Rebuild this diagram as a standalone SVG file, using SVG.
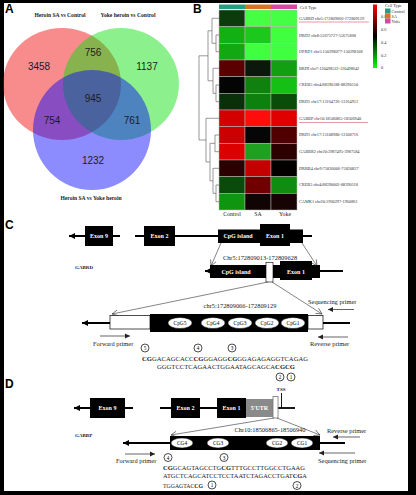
<svg xmlns="http://www.w3.org/2000/svg" width="416" height="495" viewBox="0 0 416 495">
<defs>
<style>
.pl{font-family:"Liberation Sans",Arial,sans-serif;font-weight:bold;font-size:12px;fill:#000}
.vn{font-family:"Liberation Sans",Arial,sans-serif;font-size:10px;fill:#1a1a2a;text-anchor:middle}
.vl{font-family:"Liberation Serif","Times New Roman",serif;font-weight:bold;font-size:5.6px;fill:#222;text-anchor:middle}
.hl{font-family:"Liberation Serif","Times New Roman",serif;font-size:4.3px;fill:#333}
.cl{font-family:"Liberation Serif","Times New Roman",serif;font-size:5.8px;fill:#222;text-anchor:middle}
.tx{font-family:"Liberation Serif","Times New Roman",serif;font-size:6.4px;fill:#222}
.txm{font-family:"Liberation Serif","Times New Roman",serif;font-size:6.4px;fill:#222;text-anchor:middle}
.wt{font-family:"Liberation Serif","Times New Roman",serif;font-weight:bold;font-size:6px;fill:#fff;text-anchor:middle}
.ov{font-family:"Liberation Serif","Times New Roman",serif;font-size:5.4px;fill:#000;text-anchor:middle}
.seq{font-family:"Liberation Serif","Times New Roman",serif;font-size:6.2px;fill:#222}
.gn{font-family:"Liberation Serif","Times New Roman",serif;font-weight:bold;font-size:5px;fill:#222}
.cn{font-family:"Liberation Serif","Times New Roman",serif;font-size:5.2px;fill:#000;text-anchor:middle}
.ln{stroke:#000;stroke-width:1.8;fill:none}
.thin{stroke:#333;stroke-width:0.6;fill:none}
.pa{stroke:#222;stroke-width:0.7;fill:none}
.dg{stroke:#555;stroke-width:0.6;fill:none}
.cell{stroke:#b8b8b8;stroke-width:0.5}
.circ{fill:#fff;stroke:#000;stroke-width:0.7}
.oval{fill:#fff;stroke:#000;stroke-width:0.5}
</style>
<marker id="ah" markerWidth="6" markerHeight="6" refX="5" refY="3" orient="auto" markerUnits="userSpaceOnUse"><path d="M0,0.6 L5,3 L0,5.4 Z" fill="#222"/></marker>
<marker id="ao" markerWidth="8" markerHeight="8" refX="6" refY="4" orient="auto" markerUnits="userSpaceOnUse"><path d="M0,1 L6,4 L0,7" fill="none" stroke="#333" stroke-width="0.6"/></marker>
<marker id="ab" markerWidth="8" markerHeight="8" refX="6" refY="4" orient="auto-start-reverse" markerUnits="userSpaceOnUse"><path d="M0,1 L6,4 L0,7 Z" fill="#000"/></marker>
<linearGradient id="cs" x1="0" y1="0" x2="0" y2="1">
<stop offset="0" stop-color="#ff0000"/><stop offset="0.5" stop-color="#000000"/><stop offset="1" stop-color="#00ff00"/>
</linearGradient>
</defs>
<rect x="0" y="0" width="416" height="495" fill="#000"/>
<rect x="4" y="3" width="404" height="488" fill="#fff"/>

<!-- Panel A: Venn -->
<g id="panelA">
<text class="pl" x="5" y="13">A</text>
<ellipse cx="62" cy="84" rx="59" ry="56" fill="#f00000" fill-opacity="0.45"/>
<ellipse cx="121" cy="84" rx="58" ry="56" fill="#00e000" fill-opacity="0.45"/>
<ellipse cx="92" cy="130" rx="59" ry="60" fill="#0000ff" fill-opacity="0.45"/>
<text class="vn" x="39" y="70">3458</text>
<text class="vn" x="93" y="56">756</text>
<text class="vn" x="147" y="70">1137</text>
<text class="vn" x="93" y="102">945</text>
<text class="vn" x="52" y="124">754</text>
<text class="vn" x="132" y="124">761</text>
<text class="vn" x="93" y="164">1232</text>
<text class="vl" x="60" y="17">Heroin SA vs Control</text>
<text class="vl" x="128" y="17">Yoke heroin vs Control</text>
<text class="vl" x="91" y="200">Heroin SA  vs Yoke heroin</text>
</g>

<!-- Panel B: heatmap -->
<g id="panelB">
<text class="pl" x="193" y="13">B</text>
<rect x="219" y="4.5" width="26" height="4.5" fill="#2a9a80"/>
<rect x="245" y="4.5" width="26" height="4.5" fill="#d2742a"/>
<rect x="271" y="4.5" width="26" height="4.5" fill="#d44aa2"/>
<text class="hl" x="300" y="8.5">Cell Type</text>
<g id="cells">
<rect class="cell" x="219" y="10" width="26" height="16.67" fill="#0c3c0c"/><rect class="cell" x="245" y="10" width="26" height="16.67" fill="#44ff44"/><rect class="cell" x="271" y="10" width="26" height="16.67" fill="#44ff44"/>
<rect class="cell" x="219" y="26.67" width="26" height="16.67" fill="#12b012"/><rect class="cell" x="245" y="26.67" width="26" height="16.67" fill="#1cc81c"/><rect class="cell" x="271" y="26.67" width="26" height="16.67" fill="#40ff40"/>
<rect class="cell" x="219" y="43.33" width="26" height="16.67" fill="#12a812"/><rect class="cell" x="245" y="43.33" width="26" height="16.67" fill="#40ff40"/><rect class="cell" x="271" y="43.33" width="26" height="16.67" fill="#40ff40"/>
<rect class="cell" x="219" y="60" width="26" height="16.67" fill="#5a0000"/><rect class="cell" x="245" y="60" width="26" height="16.67" fill="#0c180c"/><rect class="cell" x="271" y="60" width="26" height="16.67" fill="#12a012"/>
<rect class="cell" x="219" y="76.67" width="26" height="16.67" fill="#040404"/><rect class="cell" x="245" y="76.67" width="26" height="16.67" fill="#108010"/><rect class="cell" x="271" y="76.67" width="26" height="16.67" fill="#14c014"/>
<rect class="cell" x="219" y="93.33" width="26" height="16.67" fill="#0a300a"/><rect class="cell" x="245" y="93.33" width="26" height="16.67" fill="#0e800e"/><rect class="cell" x="271" y="93.33" width="26" height="16.67" fill="#0a4c0a"/>
<rect class="cell" x="219" y="110" width="26" height="16.67" fill="#d40000"/><rect class="cell" x="245" y="110" width="26" height="16.67" fill="#ff0c0c"/><rect class="cell" x="271" y="110" width="26" height="16.67" fill="#e00000"/>
<rect class="cell" x="219" y="126.67" width="26" height="16.67" fill="#cc0000"/><rect class="cell" x="245" y="126.67" width="26" height="16.67" fill="#060606"/><rect class="cell" x="271" y="126.67" width="26" height="16.67" fill="#500000"/>
<rect class="cell" x="219" y="143.33" width="26" height="16.67" fill="#dc0000"/><rect class="cell" x="245" y="143.33" width="26" height="16.67" fill="#20a020"/><rect class="cell" x="271" y="143.33" width="26" height="16.67" fill="#2c0000"/>
<rect class="cell" x="219" y="160" width="26" height="16.67" fill="#2c0000"/><rect class="cell" x="245" y="160" width="26" height="16.67" fill="#c40000"/><rect class="cell" x="271" y="160" width="26" height="16.67" fill="#040000"/>
<rect class="cell" x="219" y="176.67" width="26" height="16.67" fill="#0a4a0a"/><rect class="cell" x="245" y="176.67" width="26" height="16.67" fill="#700000"/><rect class="cell" x="271" y="176.67" width="26" height="16.67" fill="#108c10"/>
<rect class="cell" x="219" y="193.33" width="26" height="16.67" fill="#10960e"/><rect class="cell" x="245" y="193.33" width="26" height="16.67" fill="#100404"/><rect class="cell" x="271" y="193.33" width="26" height="16.67" fill="#160404"/>
</g>
<g id="dendrogram">
<path class="dg" d="M219,35 H216 V51.7 H219 M216,43.3 H212 M219,18.3 H212 V43.3 M212,30.8 H208"/>
<path class="dg" d="M219,85 H216 V101.7 H219 M216,93.3 H213 M219,68.3 H213 V93.3 M213,80.8 H208 V30.8 M208,55.8 H199"/>
<path class="dg" d="M219,135 H215 V151.7 H219 M215,143.3 H210 M219,185 H216 V201.7 H219 M216,193.3 H213 M219,168.3 H213 V193.3 M213,180.8 H210 V143.3 M210,162 H206 M219,118.3 H206 V162 M206,140 H199 V55.8"/>
</g>
<g id="rowlabels">
<text class="hl" x="299" y="20">GABRD chr5:172809066-172809129</text>
<line x1="299" y1="22" x2="369" y2="22" stroke="#e06a78" stroke-width="0.7"/>
<text class="hl" x="299" y="36.5">DRD2 chr8:55675727-55675868</text>
<text class="hl" x="299" y="53">OPRD1 chr5:150298077-150298108</text>
<text class="hl" x="299" y="69.7">BRDI chr7:120498522-120498642</text>
<text class="hl" x="299" y="86.4">CREB5 chr4:88390188-88390150</text>
<text class="hl" x="299" y="103">DRD1 chr17:13164726-13164912</text>
<text class="hl" x="299" y="119.7">GABBP chr10:18506865-18506940</text>
<line x1="299" y1="122.5" x2="368" y2="122.5" stroke="#e06a78" stroke-width="0.7"/>
<text class="hl" x="299" y="136.4">DRD1 chr17:13108980-13108716</text>
<text class="hl" x="299" y="153">GABBR2 chr20:3987495-3987584</text>
<text class="hl" x="299" y="169.7">DRRB4 chr9:75820006-75820827</text>
<text class="hl" x="299" y="186.4">CREB5 chr4:88390002-88390118</text>
<text class="hl" x="299" y="203">CAMK1 chr20:1960297-1960861</text>
</g>
<text class="cl" x="232" y="216">Control</text>
<text class="cl" x="258" y="216">SA</text>
<text class="cl" x="285" y="216">Yoke</text>
<g id="legend">
<rect x="373" y="4.5" width="4" height="63.5" fill="url(#cs)"/>
<text class="hl" x="381" y="17.5">0.8</text>
<text class="hl" x="381" y="30.5">0.6</text>
<text class="hl" x="381" y="43.5">0.4</text>
<text class="hl" x="381" y="56.5">0.2</text>
<text class="hl" x="381" y="69">0</text>
<text class="hl" x="385" y="7">Cell Type</text>
<rect x="385" y="8.5" width="5.5" height="5" fill="#2a9a80"/>
<rect x="385" y="13.5" width="5.5" height="5" fill="#d2742a"/>
<rect x="385" y="18.5" width="5.5" height="5" fill="#d44aa2"/>
<text class="hl" x="391.5" y="12.5">Control</text>
<text class="hl" x="391.5" y="17.5">SA</text>
<text class="hl" x="391.5" y="22.5">Yoke</text>
</g>
</g>

<!-- Panel C -->
<g id="panelC">
<text class="pl" x="5" y="229">C</text>
<g id="C-gene">
<line class="ln" x1="69" y1="236" x2="120" y2="236" marker-start="url(#ab)"/>
<line class="ln" x1="135" y1="236" x2="312" y2="236"/>
<rect x="85" y="226" width="28" height="20" fill="#000"/>
<text class="wt" x="99" y="238">Exon 9</text>
<rect x="144" y="226" width="31" height="20" fill="#000"/>
<text class="wt" x="159.5" y="238">Exon 2</text>
<rect x="218" y="229.5" width="85" height="13.5" fill="#000"/>
<rect x="260" y="224" width="30" height="22" fill="#000"/>
<text class="wt" x="238" y="238" font-size="5.4">CpG island</text>
<text class="wt" x="275" y="237.5">Exon 1</text>
</g>
<g id="C-zoom1">
<line class="thin" x1="221" y1="243" x2="211" y2="266" marker-end="url(#ao)"/>
<line class="thin" x1="302" y1="243" x2="317" y2="266" marker-end="url(#ao)"/>
<text class="txm" x="260" y="260">Chr5:172809013-172809628</text>
<text class="gn" x="75" y="269">GABRD</text>
</g>
<g id="C-island">
<line class="ln" x1="205" y1="271" x2="343" y2="271" marker-start="url(#ab)"/>
<rect x="210" y="265" width="110" height="13" fill="#000"/>
<rect x="280" y="261" width="32" height="19" fill="#000"/>
<rect x="266" y="262.5" width="7" height="19.5" fill="#fff" stroke="#000" stroke-width="0.6"/>
<text class="wt" x="236" y="274">CpG island</text>
<text class="wt" x="296" y="273.5">Exon 1</text>
</g>
<g id="C-zoom2">
<line class="thin" x1="268" y1="282" x2="112" y2="314" marker-end="url(#ao)"/>
<line class="thin" x1="272" y1="282" x2="322" y2="314" marker-end="url(#ao)"/>
<text class="txm" x="240" y="308">chr5:172809066-172809129</text>
<text class="tx" x="308" y="304">Sequencing primer</text>
<line class="pa" x1="354" y1="309.5" x2="328" y2="309.5" marker-end="url(#ah)"/>
</g>
<g id="C-region">
<line class="ln" x1="82" y1="323" x2="350" y2="323" marker-start="url(#ab)"/>
<rect x="110" y="315.5" width="40" height="13.5" fill="#fff" stroke="#000" stroke-width="0.7"/>
<rect x="150" y="314" width="158" height="18" fill="#000"/>
<rect x="308" y="315.5" width="15" height="13.5" fill="#fff" stroke="#000" stroke-width="0.7"/>
<ellipse class="oval" cx="180" cy="323" rx="12" ry="5.5"/><text class="ov" x="180" y="325">CpG5</text>
<ellipse class="oval" cx="213" cy="323" rx="12" ry="5.5"/><text class="ov" x="213" y="325">CpG4</text>
<ellipse class="oval" cx="240" cy="323" rx="12" ry="5.5"/><text class="ov" x="240" y="325">CpG3</text>
<ellipse class="oval" cx="267" cy="323" rx="12" ry="5.5"/><text class="ov" x="267" y="325">CpG2</text>
<ellipse class="oval" cx="293" cy="323" rx="12" ry="5.5"/><text class="ov" x="293" y="325">CpG1</text>
</g>
<g id="C-primers">
<line class="pa" x1="100" y1="336" x2="130" y2="336" marker-end="url(#ah)"/>
<text class="tx" x="93" y="346">Forward primer</text>
<line class="pa" x1="348" y1="337" x2="318" y2="337" marker-end="url(#ah)"/>
<text class="tx" x="310" y="346">Reverse  primer</text>
</g>
<g id="C-seq">
<circle class="circ" cx="145" cy="348" r="4"/><text class="cn" x="145" y="350">5</text>
<circle class="circ" cx="198" cy="348" r="4"/><text class="cn" x="198" y="350">4</text>
<circle class="circ" cx="232" cy="348" r="4"/><text class="cn" x="232" y="350">3</text>
<text class="seq" x="142" y="360.5" textLength="166" lengthAdjust="spacingAndGlyphs"><tspan font-weight="bold">CG</tspan>GACAGCACC<tspan font-weight="bold">CG</tspan>GGAGG<tspan font-weight="bold">CG</tspan>GGAGAGAGGTCAGAG</text>
<text class="seq" x="157" y="369" textLength="138" lengthAdjust="spacingAndGlyphs">GGGTCCTCAGAACTGGAATAGCAGCA<tspan font-weight="bold">CGCG</tspan></text>
<circle class="circ" cx="280" cy="377" r="4"/><text class="cn" x="280" y="379">2</text>
<circle class="circ" cx="291" cy="377" r="4"/><text class="cn" x="291" y="379">1</text>
</g>
</g>

<!-- Panel D -->
<g id="panelD">
<text class="pl" x="5" y="388">D</text>
<g id="D-gene">
<line class="ln" x1="74" y1="408" x2="133" y2="408" marker-start="url(#ab)"/>
<line class="ln" x1="160" y1="408" x2="246" y2="408"/>
<line class="ln" x1="278" y1="408" x2="295" y2="408"/>
<rect x="90" y="398" width="35" height="20" fill="#000"/>
<text class="wt" x="107.5" y="410">Exon 9</text>
<rect x="171" y="398" width="29" height="20" fill="#000"/>
<text class="wt" x="185.5" y="410">Exon 2</text>
<rect x="217" y="398" width="29" height="20" fill="#000"/>
<text class="wt" x="231.5" y="410">Exon 1</text>
<rect x="246" y="399" width="27" height="18" fill="#8a8a8a"/>
<text class="wt" x="259.5" y="410">5'UTR</text>
<rect x="273" y="396.5" width="5" height="21.5" fill="#fff" stroke="#777" stroke-width="0.8"/>
<line x1="281.5" y1="393" x2="281.5" y2="408" stroke="#000" stroke-width="0.9"/>
<text class="gn" x="281" y="391" text-anchor="middle">TSS</text>
</g>
<g id="D-zoom">
<line class="thin" x1="274" y1="418" x2="171" y2="435" marker-end="url(#ao)"/>
<line class="thin" x1="277" y1="418" x2="320" y2="435" marker-end="url(#ao)"/>
<text class="txm" x="270" y="432">Chr10:18506865-18506940</text>
<text class="gn" x="75" y="437">GABBP</text>
</g>
<g id="D-region">
<line class="ln" x1="123" y1="443" x2="345" y2="443" marker-start="url(#ab)"/>
<rect x="170" y="436" width="150" height="14" fill="#000"/>
<ellipse class="oval" cx="182" cy="443" rx="11" ry="5"/><text class="ov" x="182" y="445">CG4</text>
<ellipse class="oval" cx="218" cy="443" rx="11" ry="5"/><text class="ov" x="218" y="445">CG3</text>
<ellipse class="oval" cx="277" cy="443" rx="11" ry="5"/><text class="ov" x="277" y="445">CG2</text>
<ellipse class="oval" cx="302" cy="443" rx="11" ry="5"/><text class="ov" x="302" y="445">CG1</text>
</g>
<g id="D-primers">
<text class="tx" x="327" y="433">Reverse primer</text>
<line class="pa" x1="360" y1="437" x2="333" y2="437" marker-end="url(#ah)"/>
<line class="pa" x1="125" y1="454" x2="155" y2="454" marker-end="url(#ah)"/>
<text class="tx" x="116" y="463">Forward primer</text>
<line class="pa" x1="355" y1="453" x2="319" y2="453" marker-end="url(#ah)"/>
<text class="tx" x="318" y="463">Sequencing  primer</text>
</g>
<g id="D-seq">
<circle class="circ" cx="168" cy="457.5" r="4"/><text class="cn" x="168" y="459.5">4</text>
<circle class="circ" cx="224" cy="457.5" r="4"/><text class="cn" x="224" y="459.5">3</text>
<text class="seq" x="163" y="469.5" textLength="142" lengthAdjust="spacingAndGlyphs"><tspan font-weight="bold">CG</tspan>GCAGTAGCCTG<tspan font-weight="bold">CG</tspan>TTTGCCTTGGCCTGAAG</text>
<text class="seq" x="163" y="477.5" textLength="144" lengthAdjust="spacingAndGlyphs">ATGCTCAGCATCCTCCTAATCTAGACCTGAT<tspan font-weight="bold">CG</tspan>A</text>
<text class="seq" x="163" y="487.5" textLength="40" lengthAdjust="spacingAndGlyphs">TGGAGTAC<tspan font-weight="bold">CG</tspan></text>
<circle class="circ" cx="212" cy="485" r="4"/><text class="cn" x="212" y="487">1</text>
<circle class="circ" cx="297" cy="485.5" r="4"/><text class="cn" x="297" y="487.5">2</text>
</g>
</g>
</svg>
